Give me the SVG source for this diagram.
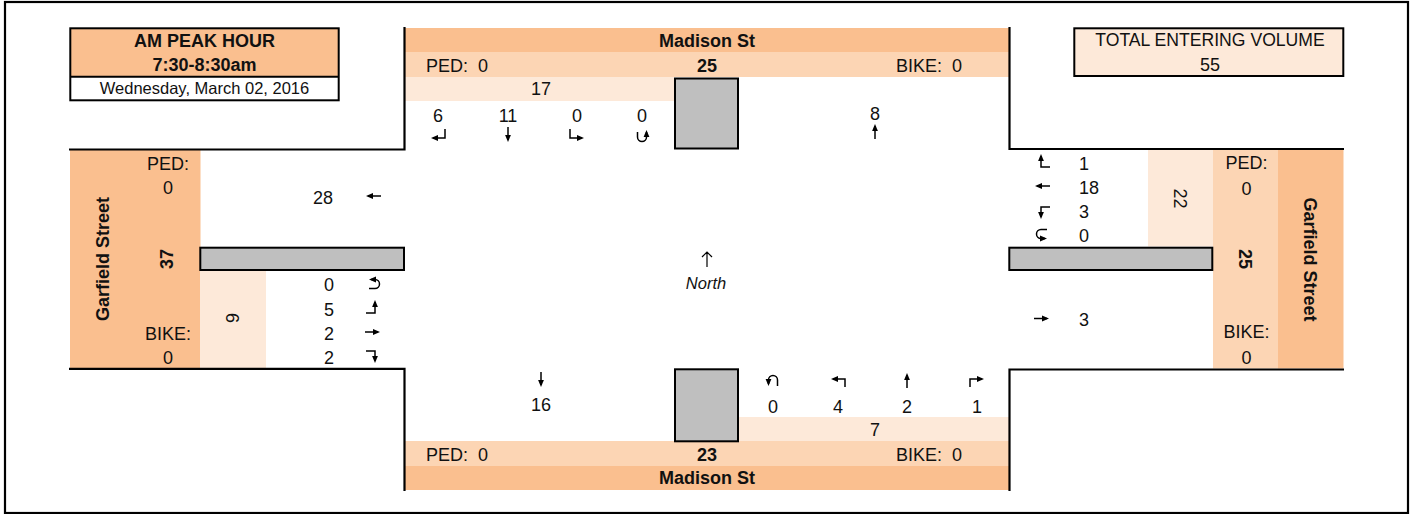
<svg xmlns="http://www.w3.org/2000/svg" width="1417" height="514" viewBox="0 0 1417 514">
<style>
text{font-family:"Liberation Sans",Arial,sans-serif;font-size:18px;fill:#111;}
.b{font-weight:bold;}
.m{text-anchor:middle;}
.c{dominant-baseline:central;}
.dk{fill:#FABF8F;}
.md{fill:#FCD5B4;}
.lt{fill:#FDE9D9;}
.gray{fill:#BFBFBF;stroke:#000;stroke-width:2;}
.edge{fill:none;stroke:#000;stroke-width:2.2;}
.arw{fill:none;stroke:#000;stroke-width:1.5;marker-end:url(#ah);}
</style>
<defs>
<marker id="ah" markerUnits="userSpaceOnUse" markerWidth="7" markerHeight="7" viewBox="0 0 7 7" refX="5" refY="3.5" orient="auto"><path d="M0,0.6 L7,3.5 L0,6.4 z" fill="#000"/></marker>
<path id="a-l" class="arw" d="M8,0 H-5"/>
<path id="a-r" class="arw" d="M-8,0 H5"/>
<path id="a-u" class="arw" d="M0,8 V-5"/>
<path id="a-d" class="arw" d="M0,-8 V5"/>
<path id="sb-r" class="arw" d="M7,-6 V3 H-5"/>
<path id="sb-l" class="arw" d="M-7,-6 V3 H5"/>
<path id="sb-u" class="arw" d="M-4.5,-4 V1 A4.5,4.5 0 0 0 4.5,1 V-4"/>
<path id="nb-u" class="arw" d="M4.5,6 V0 A4.5,4.5 0 0 0 -4.5,0 V4"/>
<path id="nb-l" class="arw" d="M7,5 V-3 H-5"/>
<path id="nb-r" class="arw" d="M-7,5 V-3 H5"/>
<path id="eb-u" class="arw" d="M-6,4.5 H0 A4.5,4.5 0 0 0 0,-4.5 H-4"/>
<path id="eb-l" class="arw" d="M-7,6 H2 V-5"/>
<path id="eb-r" class="arw" d="M-7,-5 H2 V5"/>
<path id="wb-r" class="arw" d="M7,6 H-2 V-5"/>
<path id="wb-l" class="arw" d="M7,-5 H-2 V5"/>
<path id="wb-u" class="arw" d="M6,-4.5 H0 A4.5,4.5 0 0 0 0,4.5 H4"/>
</defs>

<rect x="0" y="0" width="1417" height="514" fill="#fff"/>
<rect id="frame" x="5" y="2" width="1403" height="511" fill="none" stroke="#000" stroke-width="2.2"/>

<g id="info-box">
<rect x="70.3" y="28.3" width="268.4" height="48.4" class="dk"/>
<rect x="70.3" y="28.3" width="268.4" height="72" fill="none" stroke="#000" stroke-width="2"/>
<line x1="70" y1="76.7" x2="339" y2="76.7" stroke="#000" stroke-width="2"/>
<text x="204.5" y="46.5" class="b m">AM PEAK HOUR</text>
<text x="204.5" y="71" class="b m">7:30-8:30am</text>
<text x="204.5" y="94" class="m" style="font-size:16.5px">Wednesday, March 02, 2016</text>
</g>

<g id="total-box">
<rect x="1074.3" y="28.3" width="269" height="47.7" class="lt" stroke="#000" stroke-width="2"/>
<text x="1210" y="46" class="m" style="font-size:17.6px">TOTAL ENTERING VOLUME</text>
<text x="1210" y="70.5" class="m">55</text>
</g>

<g id="north-approach">
<rect x="405" y="28" width="604" height="24" class="dk"/>
<rect x="405" y="52" width="604" height="25" class="md"/>
<rect x="405" y="77" width="269" height="24" class="lt"/>
<rect x="675" y="78.5" width="63" height="70" class="gray"/>
<text x="707" y="46.5" class="b m">Madison St</text>
<text x="426" y="72" xml:space="preserve">PED:  0</text>
<text x="707" y="72" class="b m">25</text>
<text x="896" y="72" xml:space="preserve">BIKE:  0</text>
<text x="541" y="95" class="m">17</text>
<text x="438" y="121.5" class="m">6</text>
<text x="508" y="121.5" class="m">11</text>
<text x="577" y="121.5" class="m">0</text>
<text x="642" y="121.5" class="m">0</text>
<use href="#sb-r" x="438" y="135"/>
<use href="#a-d" x="508" y="135"/>
<use href="#sb-l" x="577" y="135"/>
<use href="#sb-u" x="642" y="136"/>
<text x="875" y="120" class="m">8</text>
<use href="#a-u" x="875" y="131"/>
</g>

<g id="west-approach">
<rect x="70" y="150" width="130.5" height="218.5" class="dk"/>
<rect x="200" y="271" width="66" height="97.5" class="lt"/>
<rect x="200.3" y="247.7" width="203.7" height="22.3" class="gray"/>
<text x="103" y="259" class="b m c" transform="rotate(-90 103 259)">Garfield Street</text>
<text x="168" y="169.5" class="m">PED:</text>
<text x="168" y="194" class="m">0</text>
<text x="167" y="259" class="b m c" transform="rotate(-90 167 259)">37</text>
<text x="168" y="339.5" class="m">BIKE:</text>
<text x="168" y="364" class="m">0</text>
<text x="233" y="318" class="m c" transform="rotate(-90 233 318)">9</text>
<text x="323" y="204" class="m">28</text>
<use href="#a-l" x="373" y="196"/>
<text x="329" y="291" class="m">0</text>
<text x="329" y="315.5" class="m">5</text>
<text x="329" y="339.5" class="m">2</text>
<text x="329" y="364" class="m">2</text>
<use href="#eb-u" x="375" y="284"/>
<use href="#eb-l" x="373" y="307"/>
<use href="#a-r" x="373" y="332"/>
<use href="#eb-r" x="373" y="356"/>
</g>

<g id="east-approach">
<rect x="1148" y="150" width="65.5" height="96.5" class="lt"/>
<rect x="1213" y="150" width="65.5" height="218.5" class="md"/>
<rect x="1278" y="150" width="65.5" height="218.5" class="dk"/>
<rect x="1009.3" y="247.7" width="203" height="22.3" class="gray"/>
<text x="1180" y="198.5" class="m c" transform="rotate(90 1180 198.5)">22</text>
<text x="1246.5" y="168.5" class="m">PED:</text>
<text x="1246.5" y="194.5" class="m">0</text>
<text x="1245" y="259" class="b m c" transform="rotate(90 1245 259)">25</text>
<text x="1246.5" y="338" class="m">BIKE:</text>
<text x="1246.5" y="363.5" class="m">0</text>
<text x="1310" y="259.5" class="b m c" transform="rotate(90 1310 259.5)">Garfield Street</text>
<use href="#wb-r" x="1043" y="161"/>
<use href="#a-l" x="1042" y="186"/>
<use href="#wb-l" x="1043" y="212"/>
<use href="#wb-u" x="1041" y="234"/>
<text x="1079" y="169.5">1</text>
<text x="1079" y="194">18</text>
<text x="1079" y="218">3</text>
<text x="1079" y="241.5">0</text>
<use href="#a-r" x="1042" y="318.5"/>
<text x="1079" y="326">3</text>
</g>

<g id="south-approach">
<rect x="739" y="417" width="270" height="24" class="lt"/>
<rect x="405" y="441" width="604" height="25" class="md"/>
<rect x="405" y="466" width="604" height="24" class="dk"/>
<rect x="675" y="369.3" width="63" height="72" class="gray"/>
<use href="#a-d" x="541" y="380"/>
<text x="541" y="411" class="m">16</text>
<use href="#nb-u" x="773" y="380"/>
<use href="#nb-l" x="838" y="382"/>
<use href="#a-u" x="907" y="380"/>
<use href="#nb-r" x="977" y="382"/>
<text x="773" y="412.5" class="m">0</text>
<text x="838" y="412.5" class="m">4</text>
<text x="907" y="412.5" class="m">2</text>
<text x="977" y="412.5" class="m">1</text>
<text x="875" y="435.5" class="m">7</text>
<text x="426" y="460.5" xml:space="preserve">PED:  0</text>
<text x="707" y="460.5" class="b m">23</text>
<text x="896" y="460.5" xml:space="preserve">BIKE:  0</text>
<text x="707" y="483.5" class="b m">Madison St</text>
</g>

<g id="north-arrow">
<path d="M707,267 V252 M702,257 L707,252 L712,257" fill="none" stroke="#000" stroke-width="1.2"/>
<text x="706" y="289" class="m" style="font-style:italic;font-size:16.5px">North</text>
</g>

<g id="connectors">
<path class="edge" d="M404.5,27 V149.5 H69"/>
<path class="edge" d="M1009.5,27 V149 H1344"/>
<path class="edge" d="M69,368.8 H404.5 V491"/>
<path class="edge" d="M1344,369.5 H1009.5 V491"/>
</g>
</svg>
